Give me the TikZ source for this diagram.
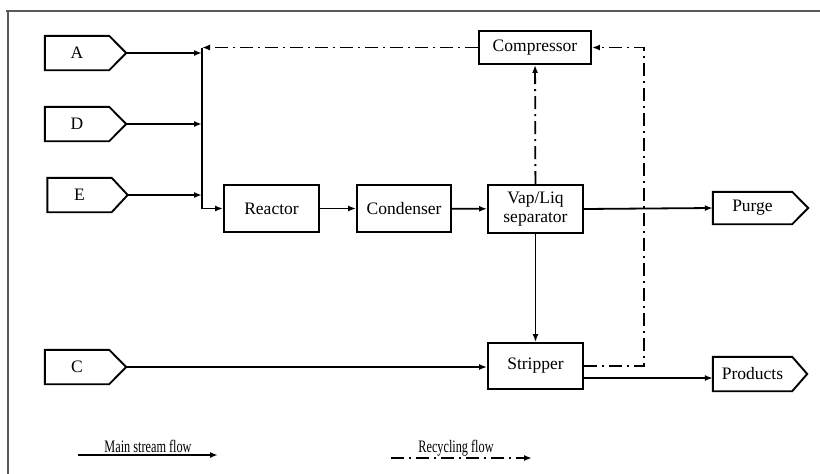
\documentclass[tikz,border=0pt]{standalone}
\usepackage{fontspec}
\setmainfont{Liberation Serif}
\usetikzlibrary{arrows.meta,calc}
\newcommand\tagshape[2]{%
  \draw[line width=1.9pt, line join=miter] (#1.north west) -- (#1.north east) -- ($(#1.east)+(#2,0)$) -- (#1.south east) -- (#1.south west) -- cycle;
  \coordinate (#1tip) at ($(#1.east)+(#2,0)$);}
\begin{document}
\begin{tikzpicture}[x=1pt,y=-1pt,
  font=\fontsize{17.5}{19}\selectfont,
  unit/.style={draw, line width=1.9pt, inner sep=0pt, align=center},
  port/.style={inner sep=0pt, minimum width=64pt, minimum height=34pt},
  flow/.style={line width=1.8pt, -{Latex[length=8pt,width=6pt]}},
  recyc/.style={line width=1.8pt, dash pattern=on 13pt off 5pt on 2pt off 5pt, -{Latex[length=8pt,width=6pt]}},
  frameline/.style={draw=black!65, line width=1.2pt},
  legtext/.style={anchor=base, inner sep=0pt, font=\fontsize{17.5}{19}\selectfont}
]
\useasboundingbox (0,0) rectangle (820,474);
\fill[white] (0,0) rectangle (820,474);
% frame
\draw[frameline] (6,11) -- (820,11);
\draw[frameline] (8,11) -- (8,474);

% input / output tags
\node[port] (A) at (77,53) {A};
\node[port] (D) at (77,124) {D};
\node[port] (E) at (79.5,195) {E};
\node[port] (C) at (77,367) {C};
\node[port, minimum width=79pt, minimum height=32pt] (purge) at (752.5,208) {Purge};
\node[port, minimum width=79pt, minimum height=34pt] (prod) at (752.5,374) {Products};
\tagshape{A}{17}
\tagshape{D}{17}
\tagshape{E}{16}
\tagshape{C}{17}
\tagshape{purge}{16}
\tagshape{prod}{15}

% units
\node[unit, minimum width=95pt, minimum height=47pt] (reac) at (271.5,208.5) {Reactor};
\node[unit, minimum width=94pt, minimum height=47pt] (cond) at (404,208.5) {Condenser};
\node[unit, minimum width=95pt, minimum height=48pt] (sep) at (535.5,209) {Vap/Liq\\separator};
\node[unit, minimum width=112pt, minimum height=33pt] (comp) at (535,47.5) {Compressor};
\node[unit, minimum width=95pt, minimum height=46pt] (strip) at (535.5,366) {Stripper};

\coordinate (jt) at (202,47.5);
\coordinate (sOut) at ($(strip.east)+(0,12)$);
\coordinate (rc) at ($(comp.east)+(52,0)$);

% main flow
\draw[flow] (Atip) -- (Atip -| jt);
\draw[flow] (Dtip) -- (Dtip -| jt);
\draw[flow] (Etip) -- (Etip -| jt);
\draw[flow] (jt) |- (reac.west);
\draw[flow] (reac) -- (cond);
\draw[flow] (cond) -- (sep);
\draw[flow] (sep.east) -- (purge.west);
\draw[flow] (sep) -- (strip);
\draw[flow] (Ctip) -- (Ctip -| strip.west);
\draw[flow] (sOut) -- (sOut -| prod.west);

% recycling flow
\draw[recyc] (sep) -- (comp);
\draw[recyc] (comp.west) -- (jt);
\draw[recyc] (strip.east) -| (rc) -- (comp.east);

% legend
\coordinate (m1) at (78,455);
\coordinate (m2) at (218,455);
\coordinate (r1) at (391,458);
\coordinate (r2) at (532,458);
\draw[flow] (m1) -- (m2);
\draw[recyc] (r1) -- (r2);
\node[legtext] (lm) at (148,452) {\scalebox{0.7}[1]{Main stream flow}};
\node[legtext] (lr) at (456,452) {\scalebox{0.7}[1]{Recycling flow}};
\end{tikzpicture}
\end{document}
